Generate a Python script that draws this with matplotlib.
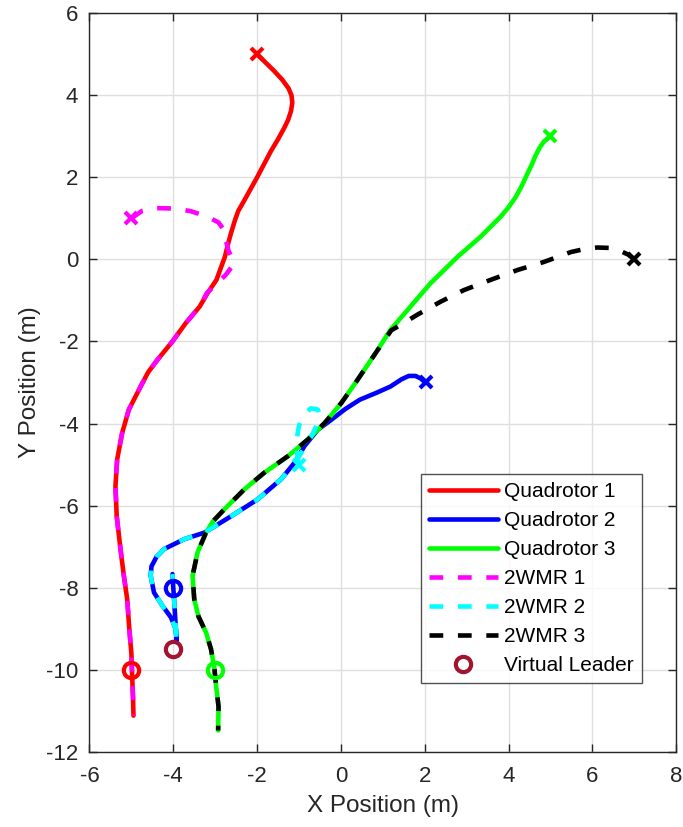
import matplotlib
matplotlib.use("Agg")
import matplotlib.pyplot as plt

plt.rcParams['font.family'] = ['Liberation Sans', 'DejaVu Sans']
plt.rcParams['axes.unicode_minus'] = False

# ---------------- data ----------------
quad1_x = [-2.0, -1.6, -1.4, -1.25, -1.18, -1.16, -1.19, -1.26, -1.35, -1.5, -1.67, -2.0, -2.31,
           -2.45, -2.53, -2.62, -2.69, -2.77, -2.87, -2.97, -3.17, -3.37, -3.7, -4.02, -4.38,
           -4.6, -4.78, -5.06, -5.22, -5.34, -5.38, -5.35, -5.26, -5.18, -5.10, -5.05, -5.0,
           -4.98, -4.96, -4.95]
quad1_y = [5.0, 4.6, 4.38, 4.17, 4.0, 3.82, 3.62, 3.4, 3.21, 2.93, 2.64, 2.0, 1.43,
           1.18, 0.95, 0.65, 0.39, 0.06, -0.22, -0.5, -0.8, -1.15, -1.55, -2.0, -2.45,
           -2.75, -3.1, -3.66, -4.23, -4.88, -5.53, -6.26, -7.06, -7.71, -8.28, -9.0, -9.6,
           -10.2, -10.7, -11.12]

quad2_x = [2.02, 1.9, 1.78, 1.62, 1.45, 1.18, 0.85, 0.45, 0.1, -0.23, -0.55, -0.87, -1.11, -1.43,
           -1.99, -2.62, -3.26, -3.74, -4.22, -4.4, -4.52, -4.54, -4.46, -4.26, -4.06, -3.94, -3.92,
           -3.95, -3.98, -4.0, -4.02]
quad2_y = [-3.0, -2.9, -2.84, -2.84, -2.92, -3.10, -3.25, -3.42, -3.65, -3.91, -4.15, -4.55, -4.96, -5.36,
           -5.85, -6.26, -6.66, -6.82, -7.06, -7.25, -7.48, -7.71, -8.12, -8.44, -8.72, -9.01, -9.3,
           -8.8, -8.3, -8.0, -7.67]

quad3_x = [5.0, 4.85, 4.74, 4.64, 4.55, 4.45, 4.32, 4.17, 4.0, 3.81, 3.33, 2.78, 2.14, 1.66, 1.18,
           0.83, 0.4, 0.01, -0.39, -0.79, -1.27, -1.83, -2.31, -2.78, -3.05, -3.22, -3.42, -3.54,
           -3.5, -3.4, -3.22, -3.1, -3.02, -2.97, -2.92, -2.93]
quad3_y = [3.0, 2.88, 2.72, 2.52, 2.3, 2.09, 1.8, 1.52, 1.27, 1.04, 0.55, 0.06, -0.58, -1.15, -1.72,
           -2.28, -2.93, -3.5, -3.99, -4.39, -4.80, -5.20, -5.61, -6.09, -6.38, -6.66, -7.14, -7.71,
           -8.28, -8.7, -9.09, -9.5, -9.96, -10.47, -10.9, -11.48]

wmr1_x = [-5.0, -4.75, -4.4, -4.0, -3.6, -3.2, -2.92, -2.78, -2.74, -2.68, -2.55, -2.62, -2.75,
          -2.97, -3.2, -3.37, -3.7, -4.02, -4.38, -4.6, -4.78, -5.06, -5.22, -5.34, -5.38, -5.35,
          -5.26, -5.18, -5.10, -5.05, -5.0, -4.98, -4.96, -4.95]
wmr1_y = [1.0, 1.18, 1.25, 1.24, 1.18, 1.05, 0.9, 0.7, 0.45, 0.2, -0.05, -0.2, -0.38,
          -0.6, -0.82, -1.15, -1.55, -2.0, -2.45, -2.75, -3.1, -3.66, -4.23, -4.88, -5.53, -6.26,
          -7.06, -7.71, -8.28, -9.0, -9.6, -10.2, -10.7, -11.12]

wmr2_x = [-1.0, -1.05, -1.05, -1.0, -0.9, -0.72, -0.55, -0.5, -0.58, -0.7, -0.85, -1.0, -1.11,
          -1.43, -1.99, -2.62, -3.26, -3.74, -4.22, -4.4, -4.52, -4.54, -4.46, -4.26, -4.06, -3.94,
          -3.92, -3.95, -3.98, -4.0, -4.02]
wmr2_y = [-5.0, -4.7, -4.35, -4.05, -3.8, -3.63, -3.66, -3.8, -4.05, -4.3, -4.55, -4.8, -4.96,
          -5.36, -5.85, -6.26, -6.66, -6.82, -7.06, -7.25, -7.48, -7.71, -8.12, -8.44, -8.72, -9.01,
          -9.35, -8.8, -8.3, -8.0, -7.67]

wmr3_x = [7.0, 6.85, 6.68, 6.4, 6.12, 5.8, 5.49, 4.85, 4.21, 3.57, 2.93, 2.38, 1.82, 1.5, 1.2,
          0.83, 0.4, 0.01, -0.39, -0.79, -1.27, -1.83, -2.31, -2.78, -3.05, -3.22, -3.42, -3.54,
          -3.5, -3.4, -3.22, -3.1, -3.02, -2.97, -2.92, -2.93]
wmr3_y = [0.0, 0.12, 0.2, 0.28, 0.29, 0.25, 0.18, -0.06, -0.26, -0.50, -0.75, -1.03, -1.35, -1.55,
          -1.73, -2.28, -2.93, -3.5, -3.99, -4.39, -4.80, -5.20, -5.61, -6.09, -6.38, -6.66, -7.14,
          -7.71, -8.28, -8.7, -9.09, -9.5, -9.96, -10.47, -10.9, -11.48]

# formation positions (circles) and leader
form_x = [-5.0, -4.0, -3.0]
form_y = [-10.0, -8.0, -10.0]
leader_x = [-4.0]
leader_y = [-9.5]

quad_colors = ['#ff0000', '#0000ff', '#00ff00']
wmr_colors = ['#ff00ff', '#00ffff', '#000000']
leader_color = '#a2142f'

x_ticks = [-6, -4, -2, 0, 2, 4, 6, 8]
y_ticks = [-12, -10, -8, -6, -4, -2, 0, 2, 4, 6]

# ---------------- plot ----------------
fig = plt.figure(figsize=(6.83, 8.27), dpi=100)
ax = fig.add_axes([0.131, 0.091, 0.859, 0.893])

quads = [(quad1_x, quad1_y), (quad2_x, quad2_y), (quad3_x, quad3_y)]
wmrs = [(wmr1_x, wmr1_y), (wmr2_x, wmr2_y), (wmr3_x, wmr3_y)]

lw = 3.3
dash = (0, (3.0, 3.2))
handles = []
for i, (qx, qy) in enumerate(quads):
    h, = ax.plot(qx, qy, color=quad_colors[i], lw=lw, solid_capstyle='round',
                 solid_joinstyle='round', label=f'Quadrotor {i+1}', zorder=2)
    handles.append(h)
for i, (wx, wy) in enumerate(wmrs):
    h, = ax.plot(wx, wy, color=wmr_colors[i], lw=lw, linestyle=dash,
                 dash_joinstyle='round', label=f'2WMR {i+1}', zorder=3)
    handles.append(h)

# start markers
for i, (qx, qy) in enumerate(quads):
    ax.plot(qx[0], qy[0], marker='x', color=quad_colors[i], ms=8, mew=3, zorder=4)
for i, (wx, wy) in enumerate(wmrs):
    ax.plot(wx[0], wy[0], marker='x', color=wmr_colors[i], ms=8, mew=3, zorder=4)

# formation circles
for i in range(3):
    ax.plot(form_x[i], form_y[i], marker='o', ms=11, mfc='none', mec=quad_colors[i],
            mew=3, linestyle='none', zorder=5)
h, = ax.plot(leader_x, leader_y, marker='o', ms=11, mfc='none', mec=leader_color,
             mew=3, linestyle='none', label='Virtual Leader', zorder=5)
handles.append(h)

ax.set_xlim(-6, 8)
ax.set_ylim(-12, 6)
ax.set_xticks(x_ticks)
ax.set_yticks(y_ticks)
ax.grid(True, color='#dfdfdf', lw=1.0)
ax.set_axisbelow(True)
for s in ax.spines.values():
    s.set_color('#262626')
    s.set_linewidth(1.0)
ax.tick_params(direction='in', length=6, width=1.0, colors='#262626', labelsize=16,
               top=True, right=True)
ax.tick_params(axis='x', pad=10)
ax.tick_params(axis='y', pad=8)

ax.set_xlabel('X Position (m)', fontsize=17.5, color='#262626', labelpad=6)
ax.set_ylabel('Y Position (m)', fontsize=17.5, color='#262626', labelpad=4)

leg = ax.legend(handles=handles, loc='lower right', bbox_to_anchor=(0.9415, 0.0926),
                fontsize=15, frameon=True, fancybox=False, edgecolor='#262626',
                handlelength=3.3, labelspacing=0.48, borderpad=0.4, handletextpad=0.3,
                borderaxespad=0)
leg.get_frame().set_linewidth(1.0)

fig.savefig('out.png', dpi=100)
